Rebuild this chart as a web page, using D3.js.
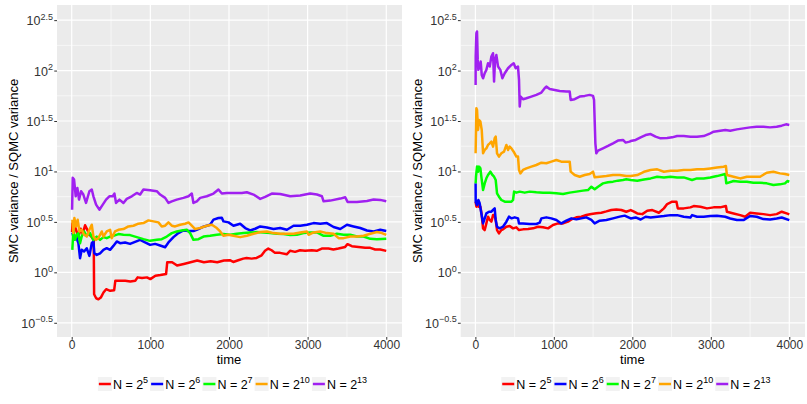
<!DOCTYPE html>
<html>
<head>
<meta charset="utf-8">
<script src="https://cdn.jsdelivr.net/npm/d3@7"></script>
<style>
  body { margin: 0; background: #fff; }
  svg { display: block; }
  text { font-family: "Liberation Sans", Arial, Helvetica, sans-serif; }
</style>
</head>
<body>
<svg id="chart" width="807" height="404"></svg>
<script>
// Exponents k of N = 2^k, one per series, and the series colours
const seriesExponents = ["5", "6", "7", "10", "13"];
const seriesColors = ["#FF0000", "#0000FF", "#00FF00", "#FFA500", "#A020F0"];

// Axis ticks: time on x, log10(variance ratio) on y
const xTicks = [0, 1000, 2000, 3000, 4000];
const xMinorTicks = [500, 1500, 2500, 3500];
const yTicks = [-0.5, 0, 0.5, 1, 1.5, 2, 2.5];
const yTickLabels = ["\u22120.5", "0", "0.5", "1", "1.5", "2", "2.5"];
const yMinorTicks = [-0.25, 0.25, 0.75, 1.25, 1.75, 2.25];

// Series values as [time, log10(SMC variance / SQMC variance)]
// ---- left chart ----
const leftN5 = [[5,0.40],[9,0.483],[25,0.40],[43,0.45],[64,0.40],[85,0.35],[115,0.433],[140,0.383],[170,0.467],[191,0.433],[234,0.367],[255,0.35],[280,0.317],[285,-0.217],[311,-0.257],[340,-0.267],[370,-0.25],[404,-0.20],[438,-0.167],[489,-0.183],[540,-0.177],[555,-0.083],[617,-0.083],[681,-0.083],[745,-0.09],[808,-0.083],[838,-0.05],[894,-0.057],[957,-0.05],[1000,-0.067],[1064,-0.033],[1128,-0.027],[1200,-0.017],[1215,0.10],[1277,0.10],[1340,0.067],[1425,0.083],[1511,0.10],[1596,0.117],[1681,0.10],[1766,0.11],[1851,0.10],[1936,0.117],[2011,0.12],[2054,0.103],[2118,0.12],[2181,0.136],[2224,0.143],[2288,0.136],[2351,0.143],[2415,0.169],[2458,0.213],[2500,0.236],[2542,0.219],[2585,0.193],[2649,0.193],[2734,0.179],[2776,0.213],[2840,0.203],[2904,0.219],[2967,0.213],[3052,0.219],[3116,0.213],[3180,0.236],[3265,0.236],[3328,0.226],[3392,0.236],[3477,0.252],[3507,0.279],[3562,0.259],[3647,0.252],[3732,0.243],[3796,0.243],[3859,0.226],[3923,0.226],[4000,0.213]];
const leftN6 = [[8,0.395],[30,0.322],[55,0.355],[85,0.289],[106,0.140],[127,0.223],[157,0.206],[191,0.239],[225,0.163],[255,0.289],[276,0.306],[288,0.189],[318,0.173],[361,0.189],[403,0.223],[445,0.239],[488,0.223],[530,0.262],[573,0.306],[615,0.289],[679,0.296],[742,0.282],[806,0.302],[870,0.322],[933,0.296],[997,0.272],[1061,0.282],[1124,0.266],[1188,0.249],[1230,0.296],[1294,0.349],[1357,0.389],[1421,0.415],[1485,0.409],[1548,0.409],[1612,0.429],[1676,0.452],[1760,0.472],[1803,0.522],[1866,0.538],[1909,0.542],[1930,0.505],[1994,0.495],[2057,0.462],[2142,0.482],[2206,0.439],[2269,0.415],[2333,0.432],[2397,0.455],[2482,0.445],[2566,0.429],[2651,0.439],[2736,0.422],[2821,0.462],[2906,0.462],[2991,0.472],[3075,0.488],[3160,0.482],[3245,0.488],[3330,0.449],[3415,0.429],[3500,0.472],[3584,0.455],[3669,0.439],[3754,0.415],[3839,0.405],[3924,0.422],[4000,0.409]];
const leftN7 = [[8,0.223],[21,0.422],[42,0.322],[64,0.372],[85,0.389],[106,0.289],[127,0.355],[157,0.405],[191,0.362],[233,0.389],[276,0.322],[318,0.355],[361,0.322],[403,0.349],[445,0.339],[488,0.355],[530,0.362],[594,0.379],[658,0.372],[742,0.369],[827,0.349],[912,0.329],[997,0.312],[1082,0.322],[1145,0.329],[1209,0.355],[1273,0.389],[1336,0.405],[1400,0.415],[1463,0.422],[1506,0.389],[1548,0.322],[1612,0.329],[1676,0.355],[1760,0.362],[1845,0.372],[1930,0.379],[2015,0.372],[2100,0.382],[2185,0.389],[2269,0.395],[2354,0.399],[2439,0.395],[2524,0.389],[2609,0.382],[2694,0.379],[2779,0.369],[2863,0.372],[2948,0.389],[3033,0.395],[3118,0.395],[3203,0.362],[3288,0.362],[3372,0.382],[3457,0.372],[3542,0.372],[3627,0.355],[3712,0.355],[3797,0.332],[3881,0.329],[4000,0.332]];
const leftN10 = [[8,0.522],[21,0.389],[34,0.538],[55,0.455],[76,0.522],[98,0.405],[127,0.422],[157,0.372],[191,0.355],[225,0.422],[255,0.472],[276,0.355],[310,0.322],[339,0.339],[382,0.405],[403,0.355],[445,0.405],[488,0.422],[509,0.339],[551,0.405],[594,0.422],[658,0.429],[721,0.455],[785,0.462],[848,0.482],[912,0.488],[976,0.515],[1039,0.505],[1103,0.495],[1145,0.455],[1188,0.462],[1230,0.495],[1273,0.462],[1315,0.455],[1379,0.472],[1442,0.482],[1485,0.495],[1527,0.462],[1570,0.429],[1633,0.439],[1718,0.462],[1782,0.472],[1845,0.439],[1888,0.405],[1930,0.362],[1994,0.372],[2057,0.362],[2142,0.349],[2227,0.362],[2312,0.382],[2397,0.399],[2482,0.405],[2566,0.389],[2651,0.382],[2736,0.382],[2821,0.382],[2906,0.395],[2991,0.405],[3012,0.372],[3075,0.395],[3160,0.405],[3245,0.389],[3330,0.382],[3394,0.339],[3457,0.339],[3542,0.355],[3627,0.355],[3712,0.362],[3797,0.382],[3881,0.399],[3945,0.389],[4000,0.372]];
const leftN13 = [[5,0.621],[13,0.937],[30,0.920],[51,0.754],[72,0.837],[93,0.721],[119,0.804],[148,0.771],[182,0.688],[225,0.804],[255,0.821],[276,0.754],[310,0.671],[352,0.621],[395,0.671],[437,0.721],[479,0.754],[522,0.754],[543,0.781],[564,0.688],[607,0.721],[658,0.688],[700,0.728],[764,0.754],[827,0.787],[870,0.771],[912,0.821],[997,0.814],[1082,0.804],[1124,0.771],[1188,0.738],[1230,0.688],[1273,0.704],[1336,0.721],[1421,0.738],[1485,0.754],[1527,0.781],[1548,0.688],[1591,0.704],[1633,0.738],[1718,0.754],[1803,0.781],[1866,0.821],[1909,0.781],[1973,0.787],[2057,0.787],[2163,0.787],[2227,0.794],[2312,0.771],[2397,0.728],[2460,0.748],[2545,0.781],[2651,0.777],[2779,0.754],[2906,0.761],[3033,0.781],[3118,0.771],[3182,0.754],[3203,0.704],[3288,0.711],[3415,0.731],[3478,0.744],[3508,0.698],[3627,0.698],[3754,0.708],[3839,0.721],[3924,0.718],[4000,0.704]];

// ---- right chart ----
const rightN5 = [[3,0.700],[13,0.651],[25,0.700],[42,0.651],[64,0.651],[81,0.568],[98,0.436],[119,0.419],[140,0.485],[161,0.552],[183,0.519],[204,0.502],[225,0.568],[242,0.568],[259,0.519],[276,0.419],[301,0.386],[331,0.419],[352,0.426],[395,0.452],[437,0.459],[480,0.436],[522,0.446],[556,0.419],[607,0.426],[671,0.429],[735,0.436],[798,0.452],[862,0.446],[926,0.436],[989,0.469],[1053,0.485],[1117,0.485],[1180,0.502],[1223,0.525],[1287,0.545],[1350,0.552],[1414,0.568],[1478,0.578],[1541,0.585],[1605,0.591],[1669,0.604],[1732,0.618],[1796,0.624],[1860,0.618],[1923,0.601],[1979,0.617],[2021,0.601],[2063,0.584],[2127,0.577],[2190,0.610],[2254,0.617],[2338,0.591],[2402,0.634],[2444,0.677],[2507,0.700],[2562,0.700],[2579,0.634],[2655,0.634],[2740,0.644],[2782,0.657],[2867,0.650],[2951,0.634],[3036,0.644],[3120,0.644],[3192,0.657],[3205,0.601],[3290,0.584],[3374,0.567],[3438,0.551],[3501,0.591],[3585,0.584],[3670,0.577],[3755,0.567],[3839,0.577],[3903,0.601],[3966,0.584],[4000,0.574]];
const rightN6 = [[3,0.882],[4,0.700],[21,0.667],[38,0.717],[55,0.684],[76,0.585],[98,0.485],[119,0.535],[140,0.585],[174,0.601],[204,0.601],[225,0.618],[246,0.634],[259,0.519],[276,0.452],[310,0.436],[352,0.452],[395,0.502],[429,0.552],[459,0.535],[501,0.545],[543,0.535],[556,0.485],[607,0.485],[692,0.479],[777,0.479],[819,0.492],[841,0.535],[904,0.545],[968,0.535],[1032,0.519],[1095,0.485],[1159,0.512],[1223,0.535],[1287,0.525],[1350,0.535],[1414,0.545],[1478,0.519],[1520,0.485],[1584,0.512],[1669,0.519],[1754,0.535],[1839,0.552],[1902,0.562],[1979,0.534],[2042,0.544],[2106,0.524],[2169,0.551],[2233,0.544],[2317,0.551],[2402,0.558],[2486,0.567],[2571,0.567],[2655,0.551],[2740,0.544],[2761,0.567],[2824,0.551],[2909,0.551],[2994,0.558],[3078,0.561],[3184,0.551],[3247,0.534],[3332,0.518],[3416,0.518],[3501,0.558],[3585,0.551],[3670,0.528],[3755,0.524],[3839,0.534],[3903,0.544],[4000,0.518]];
const rightN7 = [[3,0.882],[8,0.948],[21,1.048],[34,0.998],[47,1.048],[64,1.031],[76,0.948],[98,0.816],[119,0.882],[140,0.932],[161,0.965],[191,0.998],[217,0.965],[238,0.948],[259,0.915],[276,0.783],[301,0.750],[331,0.717],[374,0.700],[416,0.700],[459,0.700],[480,0.717],[493,0.800],[522,0.790],[565,0.800],[628,0.790],[692,0.800],[777,0.793],[862,0.790],[947,0.790],[1032,0.783],[1117,0.776],[1202,0.790],[1287,0.800],[1371,0.810],[1435,0.816],[1478,0.849],[1520,0.823],[1563,0.849],[1626,0.882],[1690,0.892],[1754,0.899],[1817,0.909],[1881,0.915],[1923,0.922],[1979,0.915],[2063,0.908],[2148,0.921],[2233,0.931],[2317,0.948],[2402,0.941],[2486,0.948],[2571,0.941],[2655,0.941],[2761,0.915],[2824,0.931],[2909,0.931],[2994,0.941],[3078,0.954],[3184,0.974],[3197,0.882],[3290,0.905],[3374,0.898],[3459,0.898],[3543,0.888],[3628,0.888],[3712,0.882],[3797,0.865],[3881,0.872],[3945,0.882],[3975,0.905],[4000,0.898]];
const rightN10 = [[3,1.180],[13,1.626],[21,1.610],[34,1.411],[47,1.511],[64,1.494],[81,1.411],[98,1.180],[119,1.213],[140,1.229],[161,1.263],[183,1.279],[204,1.296],[225,1.246],[246,1.329],[259,1.345],[276,1.180],[301,1.147],[331,1.180],[365,1.196],[395,1.263],[416,1.213],[437,1.246],[459,1.229],[488,1.196],[522,1.147],[543,1.147],[556,1.015],[573,0.981],[607,1.015],[650,1.031],[713,1.048],[777,1.064],[841,1.087],[904,1.081],[968,1.097],[1032,1.114],[1095,1.097],[1159,1.097],[1202,1.097],[1214,0.998],[1265,0.965],[1329,0.948],[1393,0.965],[1456,0.975],[1499,0.998],[1520,0.942],[1584,0.948],[1669,0.955],[1754,0.965],[1839,0.965],[1923,0.955],[1979,0.954],[2063,0.964],[2148,0.997],[2233,1.014],[2317,1.021],[2402,0.997],[2486,1.007],[2571,1.007],[2655,1.014],[2740,1.014],[2824,1.021],[2909,1.021],[2994,1.030],[3078,1.040],[3163,1.047],[3192,1.054],[3205,0.964],[3290,0.948],[3374,0.931],[3459,0.948],[3543,0.948],[3628,0.948],[3712,0.987],[3797,0.997],[3881,0.981],[3945,0.974],[4000,0.964]];
const rightN13 = [[3,1.858],[4,2.139],[13,2.370],[21,2.387],[30,2.106],[38,2.007],[55,2.040],[68,2.089],[81,1.957],[98,1.924],[119,1.974],[140,2.007],[161,2.073],[183,2.040],[204,2.139],[225,2.172],[238,1.891],[251,2.106],[267,2.155],[289,2.040],[318,2.007],[344,1.924],[374,1.974],[416,2.023],[459,2.056],[488,2.073],[514,2.023],[543,2.040],[556,1.907],[565,1.643],[577,1.742],[607,1.716],[650,1.726],[713,1.742],[777,1.759],[841,1.782],[883,1.825],[904,1.841],[947,1.818],[1011,1.808],[1074,1.798],[1159,1.792],[1202,1.792],[1214,1.709],[1265,1.716],[1329,1.742],[1393,1.749],[1456,1.759],[1499,1.749],[1512,1.709],[1529,1.279],[1541,1.180],[1563,1.206],[1626,1.229],[1690,1.253],[1754,1.279],[1817,1.306],[1881,1.312],[1915,1.286],[1966,1.296],[1979,1.302],[2042,1.312],[2106,1.338],[2169,1.361],[2233,1.371],[2296,1.345],[2359,1.328],[2444,1.331],[2507,1.338],[2571,1.351],[2655,1.351],[2740,1.345],[2824,1.345],[2909,1.351],[2994,1.378],[3036,1.394],[3120,1.404],[3184,1.411],[3247,1.404],[3332,1.417],[3416,1.427],[3501,1.437],[3585,1.444],[3670,1.444],[3755,1.437],[3839,1.444],[3903,1.454],[3958,1.467],[4000,1.460]];

const charts = [
  { series: [leftN5, leftN6, leftN7, leftN10, leftN13], x0: 57, x1: 402, titleX: 13 },
  { series: [rightN5, rightN6, rightN7, rightN10, rightN13], x0: 460.7, x1: 805, titleX: 417 }
];

const svg = d3.select("#chart");
const panelTop = 5, panelBottom = 337;
const y = d3.scaleLinear().domain([-0.641, 2.650]).range([panelBottom, panelTop]);

charts.forEach(ch => {
  const x = d3.scaleLinear().domain([-187, 4200]).range([ch.x0, ch.x1]);
  const g = svg.append("g");

  // panel background
  g.append("rect").attr("x", ch.x0).attr("y", panelTop)
    .attr("width", ch.x1 - ch.x0).attr("height", panelBottom - panelTop)
    .attr("fill", "#EBEBEB");

  // minor grid
  g.selectAll(".xminor").data(xMinorTicks).join("line")
    .attr("x1", d => x(d)).attr("x2", d => x(d)).attr("y1", panelTop).attr("y2", panelBottom)
    .attr("stroke", "#fff").attr("stroke-width", 0.6);
  g.selectAll(".yminor").data(yMinorTicks).join("line")
    .attr("x1", ch.x0).attr("x2", ch.x1).attr("y1", d => y(d)).attr("y2", d => y(d))
    .attr("stroke", "#fff").attr("stroke-width", 0.6);
  // major grid
  g.selectAll(".xmajor").data(xTicks).join("line")
    .attr("x1", d => x(d)).attr("x2", d => x(d)).attr("y1", panelTop).attr("y2", panelBottom)
    .attr("stroke", "#fff").attr("stroke-width", 1.2);
  g.selectAll(".ymajor").data(yTicks).join("line")
    .attr("x1", ch.x0).attr("x2", ch.x1).attr("y1", d => y(d)).attr("y2", d => y(d))
    .attr("stroke", "#fff").attr("stroke-width", 1.2);

  // series lines, drawn in legend order
  const line = d3.line().x(d => x(d[0])).y(d => y(d[1])).curve(d3.curveLinear);
  ch.series.forEach((s, i) => {
    g.append("path").datum(s).attr("d", line)
      .attr("fill", "none").attr("stroke", seriesColors[i])
      .attr("stroke-width", 2.5).attr("stroke-linejoin", "round");
  });

  // x axis
  const xAxis = g.append("g").attr("transform", `translate(0,${panelBottom})`)
    .call(d3.axisBottom(x).tickValues(xTicks).tickSize(2.75).tickFormat(d3.format("d")));
  xAxis.select(".domain").remove();
  xAxis.selectAll(".tick line").attr("stroke", "#333").attr("stroke-width", 1);
  xAxis.selectAll(".tick text").attr("fill", "#333").attr("font-size", 12)
    .attr("y", 12).attr("dy", 0)
    .attr("font-family", "Liberation Sans, Arial, sans-serif");

  // y axis with 10^k labels
  const yAxis = g.append("g").attr("transform", `translate(${ch.x0},0)`)
    .call(d3.axisLeft(y).tickValues(yTicks).tickSize(2.75).tickFormat(() => ""));
  yAxis.select(".domain").remove();
  yAxis.selectAll(".tick line").attr("stroke", "#333").attr("stroke-width", 1);
  yAxis.selectAll(".tick text").remove();
  yAxis.selectAll(".tick").each(function(d, i) {
    const t = d3.select(this).append("text")
      .attr("x", -4).attr("y", 4.5).attr("text-anchor", "end")
      .attr("fill", "#333").attr("font-size", 12.5);
    t.append("tspan").text("10");
    t.append("tspan").attr("font-size", 9).attr("dy", -5.5).text(yTickLabels[i]);
  });

  // axis titles
  svg.append("text").attr("x", (x(0) + x(4000)) / 2).attr("y", 364)
    .attr("text-anchor", "middle").attr("font-size", 13).attr("fill", "#000").text("time");
  svg.append("text")
    .attr("transform", `translate(${ch.titleX + 4.5},${(panelTop + panelBottom) / 2}) rotate(-90)`)
    .attr("text-anchor", "middle").attr("font-size", 13).attr("fill", "#000")
    .text("SMC variance / SQMC variance");

  // legend
  const leg = svg.append("g");
  let cx = 0;
  seriesExponents.forEach((k, i) => {
    const item = leg.append("g").attr("transform", `translate(${cx},0)`);
    item.append("rect").attr("x", 0).attr("y", -7).attr("width", 14).attr("height", 14).attr("fill", "#F2F2F2");
    item.append("line").attr("x1", 1).attr("x2", 13).attr("y1", 0).attr("y2", 0)
      .attr("stroke", seriesColors[i]).attr("stroke-width", 2.5);
    const t = item.append("text").attr("x", 15).attr("y", 4.5).attr("font-size", 12.5).attr("fill", "#000");
    t.append("tspan").text("N = 2");
    t.append("tspan").attr("font-size", 9).attr("dy", -5.5).text(k);
    const w = t.node().getComputedTextLength();
    cx += 15 + w + 2;
  });
  const legW = cx - 2;
  const centre = (ch.x0 + ch.x1) / 2 + 3;
  leg.attr("transform", `translate(${centre - legW / 2},384)`);
});
</script>
</body>
</html>
